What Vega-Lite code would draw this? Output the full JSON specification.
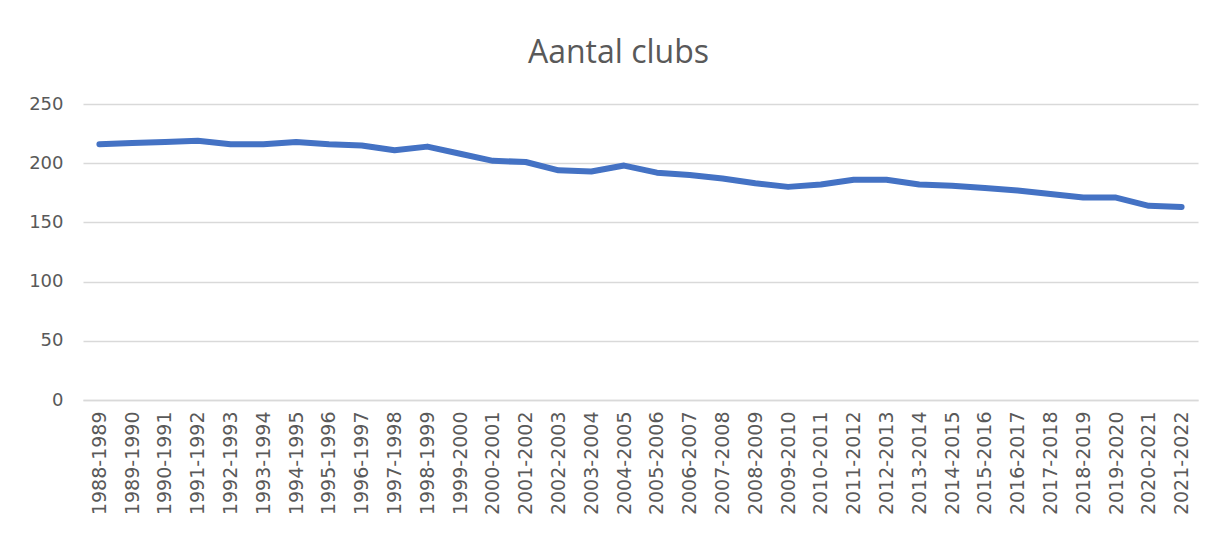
{
  "$schema": "https://vega.github.io/schema/vega-lite/v6.json",
  "autosize": {"type": "none"},
  "width": 1115,
  "height": 296,
  "padding": {"left": 83, "top": 104, "right": 24, "bottom": 133},
  "background": "#ffffff",
  "title": {
    "text": "Aantal clubs",
    "font": "Open Sans",
    "fontSize": 32,
    "fontWeight": "normal",
    "color": "#595959",
    "anchor": "middle",
    "frame": "group",
    "baseline": "alphabetic",
    "offset": 0,
    "dx": -22
  },
  "config": {
    "view": {"stroke": null}
  },
  "data": {
    "values": [
      {"seizoen": "1988-1989", "clubs": 216},
      {"seizoen": "1989-1990", "clubs": 217},
      {"seizoen": "1990-1991", "clubs": 218},
      {"seizoen": "1991-1992", "clubs": 219},
      {"seizoen": "1992-1993", "clubs": 216},
      {"seizoen": "1993-1994", "clubs": 216},
      {"seizoen": "1994-1995", "clubs": 218},
      {"seizoen": "1995-1996", "clubs": 216},
      {"seizoen": "1996-1997", "clubs": 215},
      {"seizoen": "1997-1998", "clubs": 211},
      {"seizoen": "1998-1999", "clubs": 214},
      {"seizoen": "1999-2000", "clubs": 208},
      {"seizoen": "2000-2001", "clubs": 202},
      {"seizoen": "2001-2002", "clubs": 201},
      {"seizoen": "2002-2003", "clubs": 194},
      {"seizoen": "2003-2004", "clubs": 193},
      {"seizoen": "2004-2005", "clubs": 198},
      {"seizoen": "2005-2006", "clubs": 192},
      {"seizoen": "2006-2007", "clubs": 190},
      {"seizoen": "2007-2008", "clubs": 187},
      {"seizoen": "2008-2009", "clubs": 183},
      {"seizoen": "2009-2010", "clubs": 180},
      {"seizoen": "2010-2011", "clubs": 182},
      {"seizoen": "2011-2012", "clubs": 186},
      {"seizoen": "2012-2013", "clubs": 186},
      {"seizoen": "2013-2014", "clubs": 182},
      {"seizoen": "2014-2015", "clubs": 181},
      {"seizoen": "2015-2016", "clubs": 179},
      {"seizoen": "2016-2017", "clubs": 177},
      {"seizoen": "2017-2018", "clubs": 174},
      {"seizoen": "2018-2019", "clubs": 171},
      {"seizoen": "2019-2020", "clubs": 171},
      {"seizoen": "2020-2021", "clubs": 164},
      {"seizoen": "2021-2022", "clubs": 163}
    ]
  },
  "mark": {"type": "line", "color": "#4472C4", "strokeWidth": 6, "strokeCap": "round", "strokeJoin": "round"},
  "encoding": {
    "x": {
      "field": "seizoen",
      "type": "ordinal",
      "sort": null,
      "title": null,
      "axis": {
        "labelAngle": -90,
        "labelAlign": "right",
        "labelBaseline": "middle",
        "labelFont": "DejaVu Sans",
        "labelFontSize": 19,
        "labelColor": "#595959",
        "labelPadding": 11,
        "ticks": false,
        "domain": true,
        "domainColor": "#d9d9d9",
        "domainWidth": 1.5,
        "grid": false
      }
    },
    "y": {
      "field": "clubs",
      "type": "quantitative",
      "title": null,
      "scale": {"domain": [0, 250], "nice": false},
      "axis": {
        "values": [0, 50, 100, 150, 200, 250],
        "labelFont": "DejaVu Sans",
        "labelFontSize": 18,
        "labelColor": "#595959",
        "labelPadding": 20,
        "ticks": false,
        "domain": false,
        "grid": true,
        "gridColor": "#d9d9d9",
        "gridWidth": 1.5
      }
    }
  }
}
